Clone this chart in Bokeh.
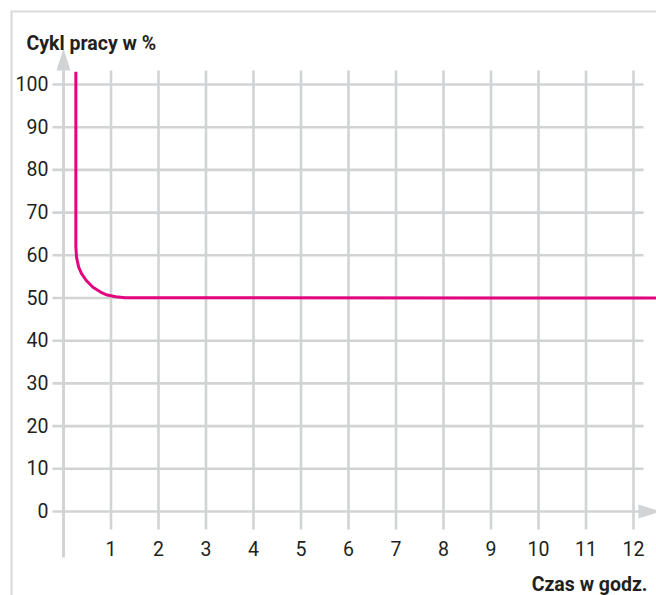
from bokeh.plotting import figure
from bokeh.models import Range1d
from bokeh.core.properties import value
from bokeh.embed import file_html
from bokeh.resources import INLINE

# ---------------- data ----------------
time_h = [0.26, 0.26, 0.275, 0.32, 0.38, 0.48, 0.62, 0.78, 0.92, 1.10, 1.30, 12.6]
duty_pct = [103.0, 62.0, 59.5, 57.2, 55.7, 54.1, 52.5, 51.4, 50.7, 50.3, 50.05, 50.0]

x_ticks = [1, 2, 3, 4, 5, 6, 7, 8, 9, 10, 11, 12]
x_tick_labels = ["1", "2", "3", "4", "5", "6", "7", "8", "9", "10", "11", "12"]
y_ticks = [0, 10, 20, 30, 40, 50, 60, 70, 80, 90, 100]
y_tick_labels = ["0", "10", "20", "30", "40", "50", "60", "70", "80", "90", "100"]

x_title = "Czas w godz."
y_title = "Cykl pracy w %"

# ---------------- layout (picture pixels) ----------------
W, H = 656, 595
ORIGIN = 0
X0_PAGE = 63.0      # picture x of time 0
Y0_PAGE = 511.0     # picture y of 0 %
PX_PER_X = 47.5
PX_PER_Y = 4.27


def dx(page_x):
    return (page_x - X0_PAGE) / PX_PER_X


def dy(page_y):
    return (Y0_PAGE - page_y) / PX_PER_Y


GRID = "#d1d3d4"
TEXT = "#231f20"
MAGENTA = "#e2057f"

p = figure(
    width=W, height=H,
    x_range=Range1d(dx(ORIGIN), dx(ORIGIN + W)),
    y_range=Range1d(dy(ORIGIN + H), dy(ORIGIN)),
    output_backend="svg", toolbar_location=None,
    x_axis_location=None, y_axis_location=None,
    min_border=0,
)
p.grid.grid_line_color = None
p.outline_line_color = None
p.background_fill_color = "white"
p.border_fill_color = "white"

# frame border (top + left)
p.line(x=[dx(11), dx(11), dx(700)], y=[dy(700), dy(11), dy(11)],
       line_color="#d9dadb", line_width=2.2, line_join="miter")

# vertical grid lines
n = len(x_ticks)
p.segment(x0=x_ticks, y0=[dy(70)] * n, x1=x_ticks, y1=[dy(529)] * n,
          line_color=GRID, line_width=2.6)
# y axis line
p.segment(x0=[0], y0=[dy(70)], x1=[0], y1=[dy(557)], line_color=GRID, line_width=3)

# horizontal grid lines
m = len(y_ticks)
p.segment(x0=[dx(52)] * m, y0=y_ticks,
          x1=[dx(640) if t == 0 else dx(643) for t in y_ticks], y1=y_ticks,
          line_color=GRID, line_width=2.6)

# arrows
p.patch(x=[dx(56), dx(63), dx(70)], y=[dy(70), dy(48), dy(70)],
        fill_color=GRID, line_color=None)
p.patch(x=[dx(638), dx(660), dx(638)], y=[dy(504), dy(511), dy(518)],
        fill_color=GRID, line_color=None)

# curve
p.line(time_h, duty_pct, line_color=MAGENTA, line_width=3, line_join="round")

# tick labels
p.text(x=[dx(48)] * m, y=y_ticks, text=y_tick_labels,
       text_align="right", text_baseline="middle",
       text_font=value("Roboto"), text_font_size="19.5px", text_color=TEXT,
       y_offset=-1)
p.text(x=x_ticks, y=[dy(548)] * n, text=x_tick_labels,
       text_align="center", text_baseline="middle",
       text_font=value("Roboto"), text_font_size="19.5px", text_color=TEXT)

# titles
p.text(x=[dx(26)], y=[dy(43.3)], text=[y_title],
       text_align="left", text_baseline="alphabetic",
       text_font=value("Roboto"), text_font_size="19.5px", text_font_style="bold",
       text_color=TEXT)
p.text(x=[dx(647)], y=[dy(584)], text=[x_title],
       text_align="right", text_baseline="alphabetic",
       text_font=value("Roboto"), text_font_size="19.5px", text_font_style="bold",
       text_color=TEXT)

open("out.html", "w").write(file_html(p, INLINE))
